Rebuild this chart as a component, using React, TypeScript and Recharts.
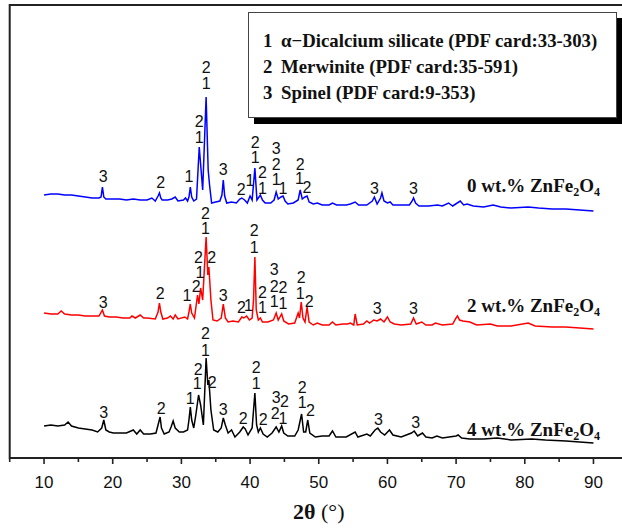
import { ComposedChart, Line, Scatter, XAxis, YAxis, ReferenceArea } from 'recharts';

type Pt = [number, number];

// 2θ (deg), intensity (a.u., offset stacks)
const zn0: Pt[] = [
  [10, 263], [11, 264], [12, 264], [13, 263], [14, 263], [15, 262], [16, 261], [17, 260], [18, 260],
  [18.3, 261], [18.5, 271], [18.7, 261], [19, 259], [20, 259], [21, 259], [22, 258], [23, 259], [24, 258],
  [25, 258], [25.7, 260], [26.2, 257], [26.6, 262], [26.8, 265], [27.0, 260], [27.2, 258], [28, 258],
  [28.6, 259], [29.1, 261], [29.5, 257], [30.3, 258], [30.6, 260], [30.9, 257], [31.1, 261], [31.3, 271],
  [31.5, 261], [31.8, 257], [32.2, 259], [32.6, 311], [33.1, 268], [33.6, 361], [33.9, 288], [34.1, 273],
  [34.4, 255], [35, 256], [35.6, 257], [35.9, 263], [36.1, 278], [36.3, 262], [36.6, 255], [37.3, 256],
  [38.0, 255], [38.5, 259], [38.8, 260], [39.2, 258], [39.6, 255], [40.0, 262], [40.3, 258], [40.7, 290],
  [41.0, 258], [41.5, 263], [41.8, 258], [42.2, 255], [43, 255], [43.5, 258], [43.8, 266], [44.1, 259],
  [44.5, 261], [44.8, 262], [45.1, 257], [45.5, 254], [46.3, 255], [47.0, 258], [47.3, 268], [47.6, 259],
  [48.0, 261], [48.3, 262], [48.6, 256], [49.2, 254], [49.8, 255], [50.5, 253], [51.5, 253], [52.0, 255],
  [52.6, 253], [54, 253], [54.6, 254], [55.3, 256], [55.8, 253], [57, 253], [57.8, 257], [58.1, 261],
  [58.5, 254], [59.0, 260], [59.2, 265], [59.5, 257], [60.0, 255], [60.4, 256], [60.8, 253], [62, 253],
  [63.2, 253], [63.6, 257], [63.8, 260], [64.1, 255], [64.6, 252], [66, 252], [67.3, 253], [68, 252],
  [68.9, 255], [69.5, 252], [70.6, 257], [71.1, 253], [71.6, 254], [72.5, 252], [74, 251], [75.4, 253],
  [76.5, 251], [78, 250], [80.5, 251], [82, 250], [84, 249], [86, 249], [88, 248], [90, 247],
];

const zn2: Pt[] = [
  [10, 145], [11, 144], [12, 144], [12.5, 147], [13, 144], [14, 143], [15, 143], [16, 142], [17, 142],
  [18, 142], [18.5, 148], [18.8, 142], [19.5, 141], [20.5, 141], [21.5, 140], [22.5, 140], [22.8, 142],
  [23.3, 140], [24, 143], [24.5, 140], [25, 140], [26.2, 139], [26.6, 146], [26.8, 155], [27.0, 146],
  [27.3, 139], [28, 140], [28.4, 142], [28.8, 139], [29.1, 143], [29.5, 139], [30.5, 141], [30.9, 139],
  [31.1, 146], [31.3, 154], [31.5, 145], [31.9, 140], [32.1, 150], [32.35, 163], [32.55, 154], [32.8, 170],
  [33.1, 158], [33.6, 221], [33.85, 183], [34.0, 191], [34.3, 158], [34.6, 138], [35.2, 137], [35.8, 140],
  [36.1, 154], [36.4, 140], [36.8, 136], [37.5, 137], [38.3, 136], [38.8, 141], [39.1, 140], [39.5, 142],
  [39.9, 138], [40.3, 140], [40.5, 158], [40.7, 201], [40.9, 148], [41.2, 138], [41.5, 140], [41.8, 136],
  [42.6, 136], [43.4, 138], [43.8, 145], [44.1, 138], [44.6, 144], [44.9, 137], [45.6, 134], [46.5, 135],
  [47.0, 145], [47.2, 140], [47.45, 156], [47.7, 140], [48.0, 136], [48.3, 151], [48.6, 136], [49.2, 133],
  [49.8, 135], [50.5, 133], [51.5, 133], [52.0, 136], [52.5, 133], [53.5, 134], [54.2, 134], [54.6, 135],
  [55.1, 133], [55.3, 144], [55.6, 133], [56.5, 134], [57.0, 137], [57.4, 135], [58.0, 138], [58.5, 137],
  [59.0, 139], [59.5, 136], [60.0, 141], [60.4, 136], [61, 134], [62, 133], [63.4, 134], [63.8, 140],
  [64.2, 134], [65, 136], [65.6, 133], [66.5, 133], [67, 135], [68, 133], [69.5, 134], [70.0, 140],
  [70.2, 142], [70.5, 138], [71, 137], [72, 136], [73, 133], [75, 134], [76, 132], [78, 132], [80.5, 135],
  [81.5, 132], [84, 131], [86, 131], [88, 130], [90, 129],
];

const zn4: Pt[] = [
  [10, 32], [11, 33], [12, 32], [13, 33], [13.5, 36], [14, 32], [15, 30], [16, 29], [17, 28], [17.8, 26],
  [18.4, 30], [18.7, 38], [19.0, 28], [19.5, 26], [20.1, 25], [21, 25], [22, 25], [23, 28], [23.5, 24],
  [24, 28], [24.5, 24], [25.5, 24], [26.3, 25], [26.6, 33], [26.9, 41], [27.1, 30], [27.5, 24], [28.2, 26],
  [28.5, 31], [28.8, 37], [29.1, 30], [29.7, 26], [30.3, 26], [30.9, 28], [31.1, 38], [31.3, 51], [31.5, 38],
  [31.8, 30], [32.1, 43], [32.5, 63], [32.8, 53], [33.2, 33], [33.6, 100], [33.85, 73], [34.0, 78], [34.3, 48],
  [34.7, 28], [35.3, 26], [35.8, 30], [36.1, 40], [36.4, 33], [36.8, 25], [37.3, 28], [37.8, 21], [38.5, 26],
  [39.0, 31], [39.3, 29], [39.7, 23], [40.3, 30], [40.7, 65], [40.95, 33], [41.2, 26], [41.5, 30], [41.9, 24],
  [42.5, 21], [43.2, 25], [43.8, 31], [44.2, 26], [44.6, 32], [44.9, 25], [45.5, 22], [46.5, 22], [47.0, 28],
  [47.5, 44], [47.8, 26], [48.1, 26], [48.4, 38], [48.7, 25], [49.5, 21], [50.5, 22], [51.5, 22], [52.0, 27],
  [52.5, 21], [54, 21], [55.3, 26], [55.7, 21], [57.0, 24], [57.5, 22], [58.2, 28], [58.6, 30], [59.0, 26],
  [59.6, 23], [60.3, 28], [60.8, 23], [62, 21], [63.5, 25], [63.9, 27], [64.4, 22], [65.1, 25], [65.6, 21],
  [66.5, 20], [67.2, 22], [68, 20], [70.0, 22], [70.3, 23], [70.8, 20], [72, 19], [74, 19], [76, 20],
  [78, 18], [81, 19], [83, 18], [86, 17], [88, 16], [90, 15],
];

// phase markers: 2θ, height, phase number
const marks0: [number, number, string][] = [
  [18.6, 282, '3'], [27.0, 276, '2'], [31.1, 282, '1'], [32.6, 337, '2'], [32.6, 321, '1'], [33.6, 391, '2'],
  [33.6, 375, '1'], [36.1, 289, '3'], [38.7, 269, '2'], [40.0, 278, '1'], [40.75, 316, '2'], [40.75, 301, '1'],
  [41.8, 286, '2'], [41.8, 270, '1'], [43.8, 310, '3'], [43.8, 294, '2'], [43.8, 279, '1'], [44.8, 270, '1'],
  [47.3, 294, '2'], [47.2, 280, '1'], [48.3, 271, '2'], [58.1, 270, '3'], [63.8, 270, '3'],
];

const marks2: [number, number, string][] = [
  [18.6, 156, '3'], [26.9, 165, '2'], [30.8, 163, '1'], [32.15, 172, '2'], [32.5, 201, '2'], [32.7, 186, '1'],
  [33.5, 245, '2'], [33.5, 230, '1'], [34.4, 201, '2'], [36.1, 163, '3'], [38.75, 151, '2'], [39.75, 153, '1'],
  [40.6, 228, '2'], [40.6, 211, '1'], [41.8, 166, '2'], [41.8, 151, '1'], [43.5, 189, '3'], [43.5, 172, '2'],
  [43.5, 157, '1'], [44.8, 171, '2'], [44.8, 155, '1'], [47.45, 181, '2'], [47.3, 165, '1'], [48.6, 157, '2'],
  [58.5, 150, '3'], [63.8, 150, '3'],
];

const marks4: [number, number, string][] = [
  [18.7, 46, '3'], [27.05, 50, '2'], [31.3, 60, '1'], [32.45, 89, '2'], [32.3, 75, '1'], [33.5, 125, '2'],
  [33.5, 108, '1'], [34.5, 76, '2'], [36.1, 49, '3'], [39.0, 40, '2'], [40.9, 91, '2'], [40.9, 75, '1'],
  [41.9, 39, '2'], [43.8, 61, '3'], [45.0, 57, '2'], [43.65, 45, '2'], [44.8, 40, '1'], [47.6, 71, '2'],
  [47.6, 56, '1'], [48.8, 48, '2'], [58.7, 39, '3'], [64.1, 36, '3'],
];

const loadings = ['0', '2', '4'];
const loadingAnchors: Pt[] = [[71.6, 272], [71.6, 152], [71.6, 28]];
const colors = ['#0000ff', '#ff0000', '#000000'];

const phases = [
  ['1', 'α−Dicalcium silicate (PDF card:33-303)'],
  ['2', 'Merwinite (PDF card:35-591)'],
  ['3', 'Spinel (PDF card:9-353)'],
];

const thetaTicks = [5, 10, 15, 20, 25, 30, 35, 40, 45, 50, 55, 60, 65, 70, 75, 80, 85, 90, 95];

const serif = '"Liberation Serif", "Times New Roman", serif';
const sans = '"Liberation Sans", Arial, sans-serif';

const rows = (pts: Pt[]) => pts.map(([x, v]) => ({ x, v }));
const markRows = (m: [number, number, string][]) => m.map(([x, v, t]) => ({ x, v, t }));

function MarkShape(props: any) {
  const { cx, cy, payload } = props;
  return (
    <text x={cx} y={cy} textAnchor="middle" dominantBaseline="central" fontFamily={sans} fontSize={16} fill="#111">
      {payload.t}
    </text>
  );
}

function SampleShape(props: any) {
  const { cx, cy, payload } = props;
  return (
    <text x={cx} y={cy + 6} fontFamily={serif} fontWeight="bold" fontSize={19} fill="#111">
      {payload.t} wt.% ZnFe
      <tspan fontSize={12} dy={4}>2</tspan>
      <tspan fontSize={19} dy={-4}>O</tspan>
      <tspan fontSize={12} dy={4}>4</tspan>
    </text>
  );
}

function AxisTick(props: any) {
  const { x, y, payload } = props;
  const v = payload.value;
  const major = v % 10 === 0;
  return (
    <g>
      <line x1={x} x2={x} y1={y} y2={y + (major ? 6 : 4)} stroke="#222" strokeWidth={1.6} />
      {major && v >= 10 && v <= 90 && (
        <text x={x} y={y + 24} textAnchor="middle" dominantBaseline="central" fontFamily={sans} fontSize={17} fill="#111">
          {v}
        </text>
      )}
    </g>
  );
}

function AxisTitle(props: any) {
  const vb = props.viewBox;
  return (
    <text x={vb.x + vb.width / 2} y={vb.y + 61} textAnchor="middle" fontFamily={serif} fontSize={22} fill="#111">
      <tspan fontWeight="bold">2θ</tspan> (°)
    </text>
  );
}

export default function App() {
  const series = [zn0, zn2, zn4];
  const marks = [marks0, marks2, marks4];
  const samples = loadings.map((t, i) => ({ x: loadingAnchors[i][0], v: loadingAnchors[i][1], t }));

  return (
    <div style={{ position: 'absolute', left: 0, top: 0, width: 622, height: 529, overflow: 'hidden', background: '#fff' }}>
      <ComposedChart width={660} height={529} margin={{ top: 5, right: 32.2, bottom: 0, left: 9.7 }}>
        <XAxis
          dataKey="x"
          type="number"
          domain={[5, 95]}
          ticks={thetaTicks}
          interval={0}
          allowDataOverflow
          axisLine={false}
          tickLine={false}
          tickSize={0}
          tickMargin={0}
          height={71}
          tick={<AxisTick />}
          label={{ content: <AxisTitle /> }}
        />
        <YAxis dataKey="v" type="number" domain={[0, 453]} hide />
        <ReferenceArea x1={5} x2={95} y1={0} y2={453} fill="none" stroke="#222" strokeWidth={2} fillOpacity={0} />
        {series.map((s, i) => (
          <Line
            key={'l' + i}
            data={rows(s)}
            dataKey="v"
            stroke={colors[i]}
            strokeWidth={1.5}
            dot={false}
            isAnimationActive={false}
          />
        ))}
        {marks.map((m, i) => (
          <Scatter key={'m' + i} data={markRows(m)} dataKey="v" shape={<MarkShape />} isAnimationActive={false} />
        ))}
        <Scatter data={samples} dataKey="v" shape={<SampleShape />} isAnimationActive={false} />
      </ComposedChart>
      <div
        style={{
          position: 'absolute',
          left: 248,
          top: 12,
          width: 367,
          height: 104,
          border: '1px solid #444',
          background: '#fff',
          boxShadow: '6px 6px 0 #000',
          fontFamily: serif,
          fontWeight: 'bold',
          fontSize: 18.8,
          color: '#111',
        }}
      >
        {phases.map(([n, name], i) => (
          <div key={n} style={{ position: 'absolute', left: 14, top: 16 + i * 26, lineHeight: '24px', whiteSpace: 'nowrap' }}>
            <span style={{ display: 'inline-block', width: 18 }}>{n}</span>
            {name}
          </div>
        ))}
      </div>
    </div>
  );
}
